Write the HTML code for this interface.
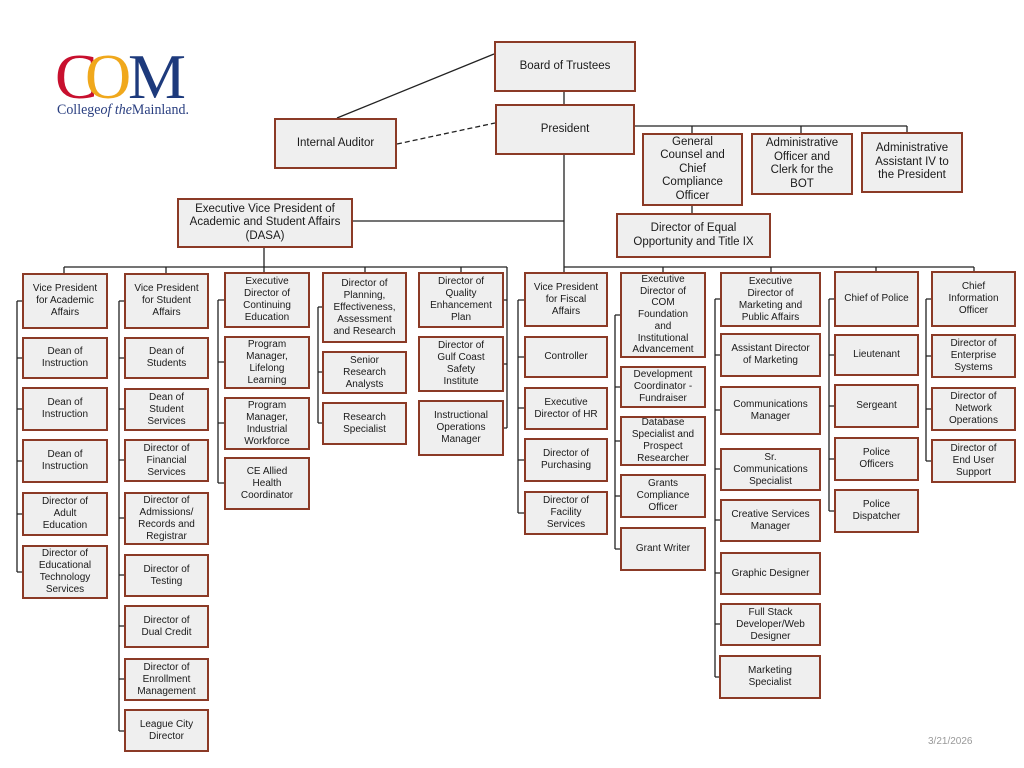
<!DOCTYPE html>
<html><head><meta charset="utf-8"><style>
html,body{margin:0;padding:0;background:#fff;}
#c{position:relative;width:1024px;height:768px;overflow:hidden;background:#fff;font-family:"Liberation Sans",Arial,sans-serif;}
.b{position:absolute;box-sizing:border-box;border:2px solid #8b3a26;background:#efefef;display:flex;align-items:center;justify-content:center;text-align:center;font-size:10px;line-height:12px;color:#1a1a1a;white-space:nowrap;}
.L{font-size:11.5px;line-height:13.5px;}
svg{position:absolute;left:0;top:0;}
</style></head><body><div id="c">
<svg width="1024" height="768" viewBox="0 0 1024 768">
<g stroke="#222" stroke-width="1.3" fill="none">
<line x1="337" y1="118" x2="494" y2="54"/>
<line x1="397" y1="144" x2="495" y2="123" stroke-dasharray="5,3"/>
<line x1="564" y1="92" x2="564" y2="104"/>
<line x1="564" y1="155" x2="564" y2="272"/>
<line x1="353" y1="221" x2="564" y2="221"/>
<line x1="635" y1="126" x2="907" y2="126"/>
<line x1="692" y1="126" x2="692" y2="133"/>
<line x1="801" y1="126" x2="801" y2="133"/>
<line x1="907" y1="126" x2="907" y2="132"/>
<line x1="692" y1="206" x2="692" y2="213"/>
<line x1="64" y1="267" x2="507" y2="267"/>
<line x1="264" y1="248" x2="264" y2="272"/>
<line x1="64" y1="267" x2="64" y2="273"/>
<line x1="166" y1="267" x2="166" y2="273"/>
<line x1="365" y1="267" x2="365" y2="272"/>
<line x1="461" y1="267" x2="461" y2="272"/>
<line x1="507" y1="267" x2="507" y2="428"/>
<line x1="564" y1="267" x2="974" y2="267"/>
<line x1="663" y1="267" x2="663" y2="272"/>
<line x1="771" y1="267" x2="771" y2="272"/>
<line x1="876" y1="267" x2="876" y2="271"/>
<line x1="974" y1="267" x2="974" y2="271"/>
<line x1="17" y1="301" x2="17" y2="572"/>
<path d="M17 301H22M17 358H22M17 409H22M17 461H22M17 514H22M17 572H22"/>
<line x1="119" y1="301" x2="119" y2="731"/>
<path d="M119 301H124M119 358H124M119 409H124M119 460H124M119 518H124M119 575H124M119 626H124M119 679H124M119 731H124"/>
<line x1="218" y1="300" x2="218" y2="483"/>
<path d="M218 300H224M218 362H224M218 423H224M218 483H224"/>
<line x1="318" y1="307" x2="318" y2="423"/>
<path d="M318 307H322M318 372H322M318 423H322"/>
<path d="M504 300H507M504 364H507M504 428H507"/>
<line x1="518" y1="300" x2="518" y2="513"/>
<path d="M518 300H524M518 357H524M518 408H524M518 460H524M518 513H524"/>
<line x1="615" y1="315" x2="615" y2="549"/>
<path d="M615 315H620M615 387H620M615 441H620M615 496H620M615 549H620"/>
<line x1="715" y1="299" x2="715" y2="677"/>
<path d="M715 299H720M715 355H720M715 410H720M715 469H720M715 520H720M715 573H720M715 624H720M715 677H720"/>
<line x1="829" y1="299" x2="829" y2="511"/>
<path d="M829 299H834M829 355H834M829 406H834M829 459H834M829 511H834"/>
<line x1="926" y1="299" x2="926" y2="461"/>
<path d="M926 299H931M926 356H931M926 409H931M926 461H931"/>
</g>
<g font-family="'Liberation Serif','DejaVu Serif',serif">
<text x="55" y="98" font-size="64" fill="#c8102e">C</text>
<text x="85" y="98" font-size="64" fill="#f0a81c">O</text>
<text x="128" y="98" font-size="64" fill="#1d3a7c" textLength="58" lengthAdjust="spacingAndGlyphs">M</text>
<text x="57" y="114" font-size="15" fill="#2a3f80" textLength="132" lengthAdjust="spacingAndGlyphs">College<tspan font-style="italic">of the</tspan>Mainland.</text>
</g>
<text x="928" y="744" font-size="10" fill="#999" font-family="'Liberation Sans',sans-serif">3/21/2026</text>
</svg>

<div class="b L" style="left:494px;top:41px;width:142px;height:51px;">Board of Trustees</div>
<div class="b L" style="left:495px;top:104px;width:140px;height:51px;">President</div>
<div class="b L" style="left:274px;top:118px;width:123px;height:51px;">Internal Auditor</div>
<div class="b L" style="left:642px;top:133px;width:101px;height:73px;">General<br>Counsel and<br>Chief<br>Compliance<br>Officer</div>
<div class="b L" style="left:751px;top:133px;width:102px;height:62px;">Administrative<br>Officer and<br>Clerk for the<br>BOT</div>
<div class="b L" style="left:861px;top:132px;width:102px;height:61px;">Administrative<br>Assistant IV to<br>the President</div>
<div class="b L" style="left:616px;top:213px;width:155px;height:45px;">Director of Equal<br>Opportunity and Title IX</div>
<div class="b L" style="left:177px;top:198px;width:176px;height:50px;">Executive Vice President of<br>Academic and Student Affairs<br>(DASA)</div>

<div class="b" style="left:22px;top:273px;width:86px;height:56px;">Vice President<br>for Academic<br>Affairs</div>
<div class="b" style="left:22px;top:337px;width:86px;height:42px;">Dean of<br>Instruction</div>
<div class="b" style="left:22px;top:387px;width:86px;height:44px;">Dean of<br>Instruction</div>
<div class="b" style="left:22px;top:439px;width:86px;height:44px;">Dean of<br>Instruction</div>
<div class="b" style="left:22px;top:492px;width:86px;height:44px;">Director of<br>Adult<br>Education</div>
<div class="b" style="left:22px;top:545px;width:86px;height:54px;">Director of<br>Educational<br>Technology<br>Services</div>

<div class="b" style="left:124px;top:273px;width:85px;height:56px;">Vice President<br>for Student<br>Affairs</div>
<div class="b" style="left:124px;top:337px;width:85px;height:42px;">Dean of<br>Students</div>
<div class="b" style="left:124px;top:388px;width:85px;height:43px;">Dean of<br>Student<br>Services</div>
<div class="b" style="left:124px;top:439px;width:85px;height:43px;">Director of<br>Financial<br>Services</div>
<div class="b" style="left:124px;top:492px;width:85px;height:53px;">Director of<br>Admissions/<br>Records and<br>Registrar</div>
<div class="b" style="left:124px;top:554px;width:85px;height:43px;">Director of<br>Testing</div>
<div class="b" style="left:124px;top:605px;width:85px;height:43px;">Director of<br>Dual Credit</div>
<div class="b" style="left:124px;top:658px;width:85px;height:43px;">Director of<br>Enrollment<br>Management</div>
<div class="b" style="left:124px;top:709px;width:85px;height:43px;">League City<br>Director</div>

<div class="b" style="left:224px;top:272px;width:86px;height:56px;">Executive<br>Director of<br>Continuing<br>Education</div>
<div class="b" style="left:224px;top:336px;width:86px;height:53px;">Program<br>Manager,<br>Lifelong<br>Learning</div>
<div class="b" style="left:224px;top:397px;width:86px;height:53px;">Program<br>Manager,<br>Industrial<br>Workforce</div>
<div class="b" style="left:224px;top:457px;width:86px;height:53px;">CE Allied<br>Health<br>Coordinator</div>

<div class="b" style="left:322px;top:272px;width:85px;height:71px;">Director of<br>Planning,<br>Effectiveness,<br>Assessment<br>and Research</div>
<div class="b" style="left:322px;top:351px;width:85px;height:43px;">Senior<br>Research<br>Analysts</div>
<div class="b" style="left:322px;top:402px;width:85px;height:43px;">Research<br>Specialist</div>

<div class="b" style="left:418px;top:272px;width:86px;height:56px;">Director of<br>Quality<br>Enhancement<br>Plan</div>
<div class="b" style="left:418px;top:336px;width:86px;height:56px;">Director of<br>Gulf Coast<br>Safety<br>Institute</div>
<div class="b" style="left:418px;top:400px;width:86px;height:56px;">Instructional<br>Operations<br>Manager</div>

<div class="b" style="left:524px;top:272px;width:84px;height:55px;">Vice President<br>for Fiscal<br>Affairs</div>
<div class="b" style="left:524px;top:336px;width:84px;height:42px;">Controller</div>
<div class="b" style="left:524px;top:387px;width:84px;height:43px;">Executive<br>Director of HR</div>
<div class="b" style="left:524px;top:438px;width:84px;height:44px;">Director of<br>Purchasing</div>
<div class="b" style="left:524px;top:491px;width:84px;height:44px;">Director of<br>Facility<br>Services</div>

<div class="b" style="left:620px;top:272px;width:86px;height:86px;line-height:11.7px;">Executive<br>Director of<br>COM<br>Foundation<br>and<br>Institutional<br>Advancement</div>
<div class="b" style="left:620px;top:366px;width:86px;height:42px;">Development<br>Coordinator -<br>Fundraiser</div>
<div class="b" style="left:620px;top:416px;width:86px;height:50px;">Database<br>Specialist and<br>Prospect<br>Researcher</div>
<div class="b" style="left:620px;top:474px;width:86px;height:44px;">Grants<br>Compliance<br>Officer</div>
<div class="b" style="left:620px;top:527px;width:86px;height:44px;">Grant Writer</div>

<div class="b" style="left:720px;top:272px;width:101px;height:55px;">Executive<br>Director of<br>Marketing and<br>Public Affairs</div>
<div class="b" style="left:720px;top:333px;width:101px;height:44px;">Assistant Director<br>of Marketing</div>
<div class="b" style="left:720px;top:386px;width:101px;height:49px;">Communications<br>Manager</div>
<div class="b" style="left:720px;top:448px;width:101px;height:43px;">Sr.<br>Communications<br>Specialist</div>
<div class="b" style="left:720px;top:499px;width:101px;height:43px;">Creative Services<br>Manager</div>
<div class="b" style="left:720px;top:552px;width:101px;height:43px;">Graphic Designer</div>
<div class="b" style="left:720px;top:603px;width:101px;height:43px;">Full Stack<br>Developer/Web<br>Designer</div>
<div class="b" style="left:719px;top:655px;width:102px;height:44px;">Marketing<br>Specialist</div>

<div class="b" style="left:834px;top:271px;width:85px;height:56px;">Chief of Police</div>
<div class="b" style="left:834px;top:334px;width:85px;height:42px;">Lieutenant</div>
<div class="b" style="left:834px;top:384px;width:85px;height:44px;">Sergeant</div>
<div class="b" style="left:834px;top:437px;width:85px;height:44px;">Police<br>Officers</div>
<div class="b" style="left:834px;top:489px;width:85px;height:44px;">Police<br>Dispatcher</div>

<div class="b" style="left:931px;top:271px;width:85px;height:56px;">Chief<br>Information<br>Officer</div>
<div class="b" style="left:931px;top:334px;width:85px;height:44px;">Director of<br>Enterprise<br>Systems</div>
<div class="b" style="left:931px;top:387px;width:85px;height:44px;">Director of<br>Network<br>Operations</div>
<div class="b" style="left:931px;top:439px;width:85px;height:44px;">Director of<br>End User<br>Support</div>
</div></body></html>
